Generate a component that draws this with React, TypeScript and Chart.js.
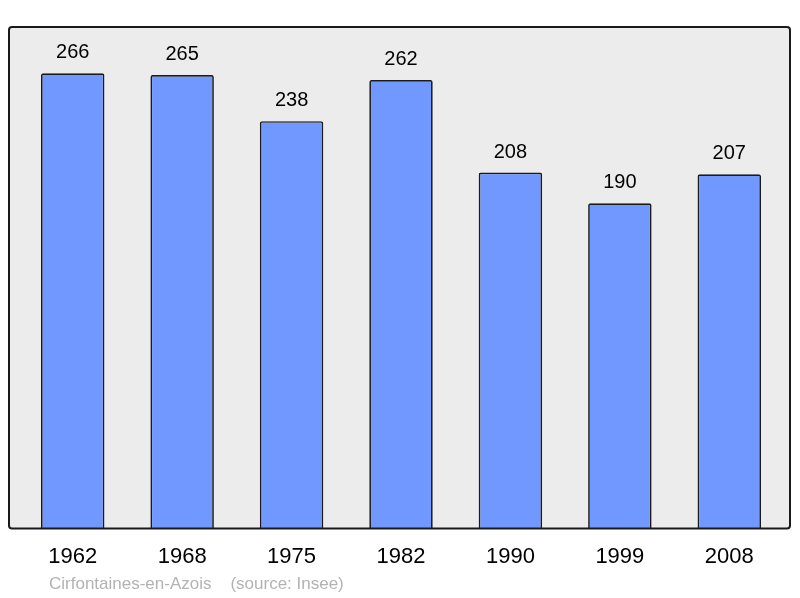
import React, { useEffect, useRef } from "react";
import { Chart, registerables } from "chart.js";

Chart.register(...registerables);

const years = ["1962", "1968", "1975", "1982", "1990", "1999", "2008"];
const population = [266, 265, 238, 262, 208, 190, 207];
const footerText = "Cirfontaines-en-Azois    (source: Insee)";

const framePlugin = {
  id: "frame",
  beforeDraw(chart: any) {
    const { ctx, chartArea } = chart;
    const x0 = chartArea.left - 9;
    const x1 = chartArea.right + 6;
    const y0 = chartArea.top;
    const y1 = chartArea.bottom;
    ctx.save();
    ctx.beginPath();
    (ctx as any).roundRect(x0, y0, x1 - x0, y1 - y0, 3);
    ctx.fillStyle = "#ececec";
    ctx.fill();
    ctx.restore();
  },
  afterDatasetsDraw(chart: any) {
    const { ctx, chartArea } = chart;
    const x0 = chartArea.left - 9;
    const x1 = chartArea.right + 6;
    const y0 = chartArea.top;
    const y1 = chartArea.bottom;
    ctx.save();
    ctx.beginPath();
    (ctx as any).roundRect(x0, y0, x1 - x0, y1 - y0, 3);
    ctx.lineWidth = 2;
    ctx.strokeStyle = "#1a1a1a";
    ctx.stroke();
    // value labels
    const meta = chart.getDatasetMeta(0);
    ctx.fillStyle = "#000";
    ctx.font = "20px 'Liberation Sans', Arial, sans-serif";
    ctx.textAlign = "center";
    ctx.textBaseline = "alphabetic";
    meta.data.forEach((bar: any, i: number) => {
      ctx.fillText(String(population[i]), bar.x, bar.y - 15);
    });
    // footer
    ctx.fillStyle = "#b3b3b3";
    ctx.font = "17px 'Liberation Sans', Arial, sans-serif";
    ctx.textAlign = "left";
    ctx.fillText(footerText, chartArea.left + 31, 589);
    ctx.restore();
  },
};

export default function App() {
  const ref = useRef<HTMLCanvasElement | null>(null);
  useEffect(() => {
    document.body.style.margin = "0";
    const chart = new Chart(ref.current as HTMLCanvasElement, {
      type: "bar",
      data: {
        labels: years,
        datasets: [
          {
            data: population,
            backgroundColor: "#7098ff",
            borderColor: "#1a1a1a",
            borderWidth: 1.7,
            borderRadius: 2,
            borderSkipped: "bottom",
            barPercentage: 0.58,
            categoryPercentage: 1,
          },
        ],
      },
      options: {
        animation: false,
        responsive: false,
        maintainAspectRatio: false,
        layout: { padding: { left: 18, right: 16, top: 27, bottom: 13 } },
        plugins: { legend: { display: false }, tooltip: { enabled: false } },
        scales: {
          x: {
            grid: { display: false, drawTicks: false },
            border: { display: false },
            ticks: {
              color: "#000",
              font: { size: 22, family: "'Liberation Sans', Arial, sans-serif" },
              padding: 15,
              maxRotation: 0,
            },
          },
          y: {
            display: false,
            min: 0,
            max: 293,
          },
        },
      },
      plugins: [framePlugin],
    });
    return () => chart.destroy();
  }, []);
  return (
    <div style={{ width: 800, height: 598 }}>
      <canvas ref={ref} width={800} height={598} />
    </div>
  );
}
